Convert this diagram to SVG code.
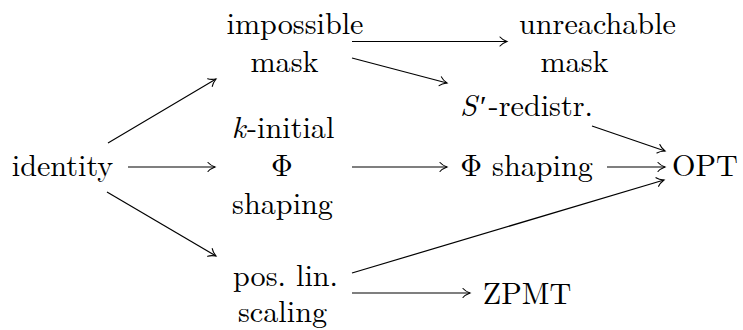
<svg xmlns="http://www.w3.org/2000/svg" width="743" height="330" viewBox="0 0 743 330">
<style>
text{font-family:Latin Modern Roman,Liberation Serif,serif;font-size:30.2px;fill:#000;text-anchor:middle}
.c line{stroke:#000;stroke-width:1.2;fill:none;marker-end:url(#to)}
</style>
<defs>
<marker id="to" markerUnits="userSpaceOnUse" markerWidth="12" markerHeight="12" viewBox="-9 -6 12 12" refX="0" refY="0" orient="auto" overflow="visible">
<path d="M -7,-4.5 C -5,-2 -1.5,-0.6 0,0 C -1.5,0.6 -5,2 -7,4.5" fill="none" stroke="#000" stroke-width="1.1" stroke-linecap="round"/>
</marker>
</defs>
<rect width="743" height="330" fill="#fff"/>
<g font-family="Latin Modern Roman, Liberation Serif, serif" font-size="30.2" text-anchor="middle">
<g id="identity"><text x="62.5" y="176">identity</text></g>
<g id="impossible-mask">
<text x="295" y="34">impossible</text>
<text x="284.5" y="72">mask</text>
</g>
<g id="k-initial-phi-shaping">
<text x="283" y="138"><tspan font-style="italic">k</tspan><tspan dx="1.5">-initial</tspan></text>
<text x="282" y="176">Φ</text>
<text x="282.5" y="214">shaping</text>
</g>
<g id="pos-lin-scaling">
<text x="285.5" y="286">pos. lin.</text>
<text x="282.5" y="322">scaling</text>
</g>
<g id="unreachable-mask">
<text x="597.5" y="34">unreachable</text>
<text x="574.5" y="72">mask</text>
</g>
<g id="s-redistr"><text x="526.5" y="116"><tspan font-style="italic">S</tspan><tspan dx="3">′</tspan><tspan dx="2">-redistr.</tspan></text></g>
<g id="phi-shaping"><text x="526.5" y="176">Φ shaping</text></g>
<g id="opt"><text x="705" y="176">OPT</text></g>
<g id="zpmt"><text x="527" y="304">ZPMT</text></g>
</g>
<g id="connectors" class="c">
<line x1="108" y1="143" x2="216" y2="79"/>
<line x1="128" y1="167" x2="215" y2="167"/>
<line x1="107" y1="192" x2="216" y2="256"/>
<line x1="352" y1="41.5" x2="507" y2="41.5"/>
<line x1="352" y1="58" x2="447" y2="83"/>
<line x1="352" y1="167" x2="447" y2="167"/>
<line x1="592" y1="126" x2="665" y2="151"/>
<line x1="607" y1="167" x2="665" y2="167"/>
<line x1="352" y1="273" x2="664" y2="180"/>
<line x1="352" y1="293" x2="470" y2="293"/>
</g>
</svg>
